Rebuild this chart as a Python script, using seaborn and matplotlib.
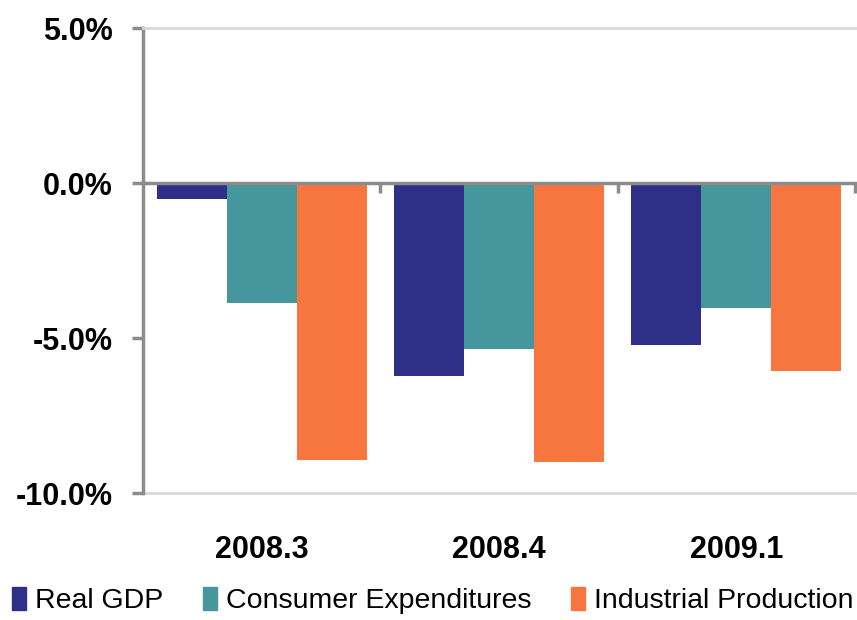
import pandas as pd
import matplotlib
matplotlib.use("Agg")
import matplotlib.pyplot as plt
import seaborn as sns
from matplotlib.ticker import FuncFormatter

# chart data (percent change)
quarters = ["2008.3", "2008.4", "2009.1"]
real_gdp = [-0.52, -6.23, -5.23]
consumer_exp = [-3.87, -5.35, -4.03]
industrial_prod = [-8.94, -9.0, -6.06]
series_names = ["Real GDP", "Consumer Expenditures", "Industrial Production"]
colors = ["#2E3088", "#46979D", "#F7763F"]

df = pd.DataFrame({
    "quarter": quarters * 3,
    "series": [s for s in series_names for _ in quarters],
    "value": real_gdp + consumer_exp + industrial_prod,
})

sns.set_style("white")
plt.rcParams["font.family"] = ["Liberation Sans", "DejaVu Sans"]
plt.rcParams["text.color"] = "black"
plt.rcParams["xtick.color"] = "black"
plt.rcParams["ytick.color"] = "black"

fig = plt.figure(figsize=(8.57, 6.2), dpi=100)
ax = fig.add_axes([0.1669, 0.2048, 0.8308, 0.75])

sns.barplot(data=df, x="quarter", y="value", hue="series", palette=colors,
            width=0.885, gap=0, linewidth=0, saturation=1, ax=ax, legend=False)

ax.set_xlim(-0.5, 2.5)
ax.set_ylim(-10, 5)
ax.set_yticks([-10, -5, 0, 5])
ax.yaxis.set_major_formatter(FuncFormatter(lambda v, p: f"{v:.1f}%"))
for lab in ax.get_yticklabels():
    lab.set_fontweight("bold")
ax.tick_params(axis="y", left=True, labelsize=22, color="#8c8c8c",
               labelcolor="black", length=8, width=2.5, pad=14, direction="out")
ax.set_xlabel("")
ax.set_ylabel("")

# zero line with group separator ticks
ax.spines["bottom"].set_position(("data", 0))
ax.spines["bottom"].set_color("#8c8c8c")
ax.spines["bottom"].set_linewidth(2.5)
ax.spines["bottom"].set_zorder(5)
ax.set_xticks([0.5, 1.5, 2.5], minor=True)
ax.tick_params(axis="x", which="major", length=0, labelbottom=False)
ax.tick_params(axis="x", which="minor", bottom=True, length=7, width=2.5,
               color="#8c8c8c", direction="out")

ax.spines["left"].set_color("#8c8c8c")
ax.spines["left"].set_linewidth(2.5)
ax.spines["top"].set_color("#d9d9d9")
ax.spines["top"].set_linewidth(2)
ax.spines["right"].set_visible(False)

# category labels along the bottom edge
sec = ax.secondary_xaxis("bottom")
sec.set_xticks(range(len(quarters)))
sec.set_xticklabels(quarters, fontsize=22, fontweight="bold", color="black")
sec.tick_params(length=0, pad=30)
sec.spines["bottom"].set_color("#d9d9d9")
sec.spines["bottom"].set_linewidth(2)

handles = [plt.Rectangle((0, 0), 1, 1, color=c) for c in colors]
fig.legend(handles, series_names, loc="lower center", ncol=3, frameon=False,
           fontsize=20.5, handlelength=0.5, handleheight=0.9, handletextpad=0.3,
           columnspacing=1.4, bbox_to_anchor=(0.505, -0.032),
           labelcolor="black")

fig.savefig("out.png", dpi=100)
